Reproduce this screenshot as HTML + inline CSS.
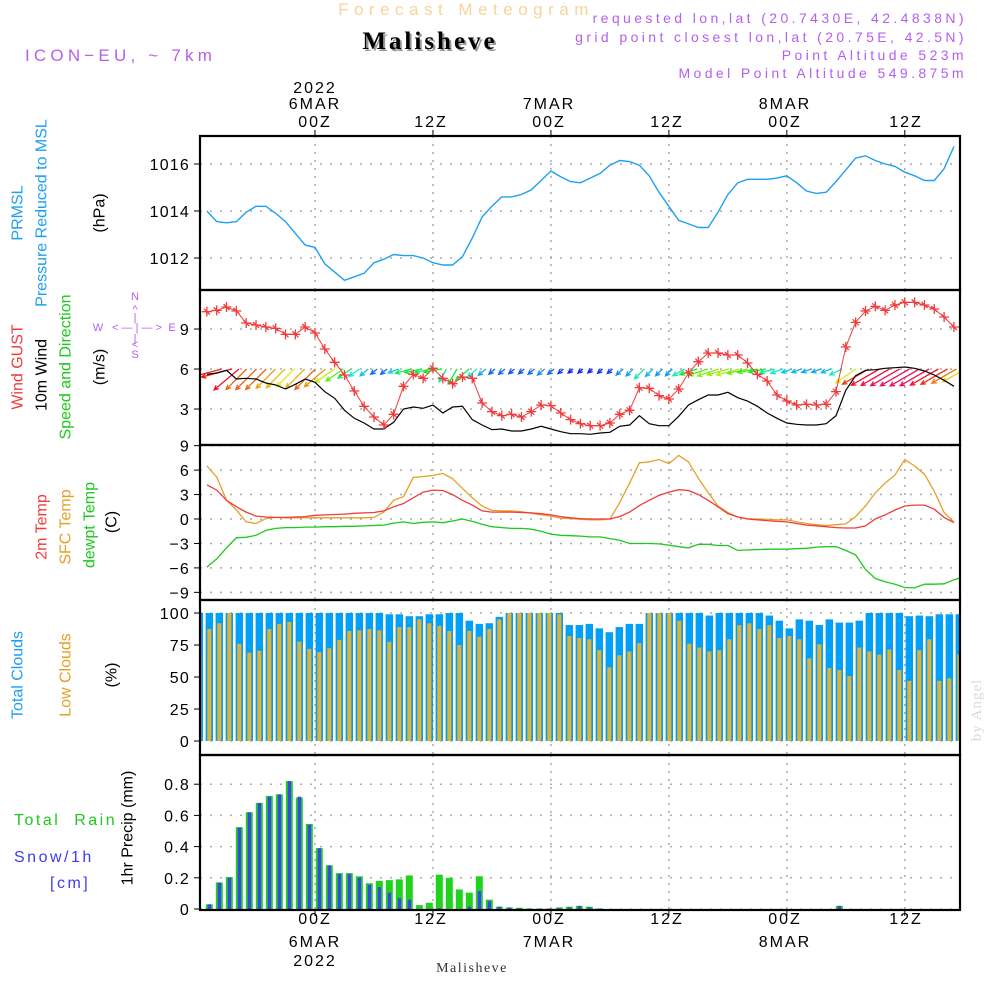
<!DOCTYPE html>
<html><head><meta charset="utf-8">
<style>
html,body{margin:0;padding:0;background:#fff;}
svg{display:block;font-family:"Liberation Sans",sans-serif;}
</style></head>
<body>
<svg id="chart" width="1000" height="1000" viewBox="0 0 1000 1000" xmlns="http://www.w3.org/2000/svg">
<defs><clipPath id="plotclip"><rect x="200" y="136" width="760" height="774"/></clipPath></defs>
<rect x="0" y="0" width="1000" height="1000" fill="#fff"/>
<text x="466" y="15" font-size="17" fill="#f6d49c" text-anchor="middle" letter-spacing="5.5">Forecast Meteogram</text>
<text x="432" y="51" font-size="25" font-weight="bold" fill="#999" text-anchor="middle" font-family="Liberation Serif, serif" letter-spacing="3">Malisheve</text>
<text x="430" y="49" font-size="25" font-weight="bold" fill="#000" text-anchor="middle" font-family="Liberation Serif, serif" letter-spacing="3">Malisheve</text>
<text x="25" y="61" font-size="17" fill="#b45ff0" letter-spacing="4.2">ICON−EU, ~ 7km</text>
<g font-size="14" fill="#b45ff0" text-anchor="end" letter-spacing="3.4">
<text x="967" y="23">requested lon,lat (20.7430E, 42.4838N)</text>
<text x="967" y="42">grid point closest lon,lat (20.75E, 42.5N)</text>
<text x="967" y="60">Point Altitude 523m</text>
<text x="967" y="78">Model Point Altitude 549.875m</text>
</g>
<g font-size="16" fill="#000" text-anchor="middle" letter-spacing="2">
<text x="315" y="93">2022</text>
<text x="315" y="109">6MAR</text>
<text x="315" y="127">00Z</text>
<text x="431" y="127">12Z</text>
<text x="549" y="109">7MAR</text>
<text x="549" y="127">00Z</text>
<text x="667" y="127">12Z</text>
<text x="785" y="109">8MAR</text>
<text x="785" y="127">00Z</text>
<text x="906" y="127">12Z</text>
<text x="315" y="924">00Z</text>
<text x="315" y="947">6MAR</text>
<text x="315" y="966">2022</text>
<text x="431" y="924">12Z</text>
<text x="549" y="924">00Z</text>
<text x="549" y="947">7MAR</text>
<text x="667" y="924">12Z</text>
<text x="785" y="924">00Z</text>
<text x="785" y="947">8MAR</text>
<text x="906" y="924">12Z</text>
</g>
<text x="472" y="972" font-size="14" fill="#333" text-anchor="middle" font-family="Liberation Serif, serif" letter-spacing="1.5">Malisheve</text>
<text transform="translate(981,710) rotate(-90)" font-size="15" fill="#d4dcd4" text-anchor="middle" font-family="Liberation Serif, serif" letter-spacing="1">by Angel</text>
<g font-size="16" text-anchor="middle" dominant-baseline="central">
<text transform="translate(18,213) rotate(-90)" fill="#1ea0f0">PRMSL</text>
<text transform="translate(42,213) rotate(-90)" fill="#1ea0f0">Pressure Reduced to MSL</text>
<text transform="translate(100,213) rotate(-90)" fill="#000">(hPa)</text>
<text transform="translate(18,367) rotate(-90)" fill="#f03c3c">Wind GUST</text>
<text transform="translate(42,375) rotate(-90)" fill="#000">10m Wind</text>
<text transform="translate(66,367) rotate(-90)" fill="#1ec81e">Speed and Direction</text>
<text transform="translate(100,367) rotate(-90)" fill="#000">(m/s)</text>
<text transform="translate(42,527) rotate(-90)" fill="#f03c3c">2m Temp</text>
<text transform="translate(66,527) rotate(-90)" fill="#e6a028">SFC Temp</text>
<text transform="translate(90,525) rotate(-90)" fill="#1ec81e">dewpt Temp</text>
<text transform="translate(112,522) rotate(-90)" fill="#000">(C)</text>
<text transform="translate(18,675) rotate(-90)" fill="#1ea0f0">Total Clouds</text>
<text transform="translate(66,675) rotate(-90)" fill="#e6a028">Low Clouds</text>
<text transform="translate(112,675) rotate(-90)" fill="#000">(%)</text>
<text transform="translate(128,828) rotate(-90)" fill="#000">1hr Precip (mm)</text>
</g>
<g font-size="16" letter-spacing="2.5">
<text x="14" y="825" fill="#1ec81e" xml:space="preserve">Total  Rain</text>
<text x="14" y="862" fill="#3c3cf0">Snow/1h</text>
<text x="50" y="888" fill="#3c3cf0">[cm]</text>
</g>
<g font-size="11" fill="#b45ff0" text-anchor="middle">
<text x="135" y="300">N</text><text x="135" y="313">^</text><text x="135" y="321">|</text>
<text x="98" y="331">W</text><text x="137" y="331">&lt; — | — &gt;</text><text x="172" y="331">E</text>
<text x="135" y="342">|</text><text x="135" y="348">&lt;</text><text x="135" y="358">S</text>
</g>
<g id="grid"></g>
<g id="marks" clip-path="url(#plotclip)"></g>
<g id="frame"></g>
<g id="ticks" font-size="16" fill="#000" text-anchor="end" letter-spacing="1.2"></g>
</svg>
<script>
// ---- data (hourly, h = -11 .. 65) ----
const pressure = [1014.0,1013.55,1013.5,1013.55,1013.95,1014.2,1014.2,1013.9,1013.55,1013.05,1012.55,1012.45,1011.75,1011.4,1011.05,1011.2,1011.35,1011.8,1011.95,1012.15,1012.1,1012.1,1012.0,1011.8,1011.7,1011.7,1012.05,1012.85,1013.75,1014.2,1014.6,1014.6,1014.7,1014.9,1015.3,1015.7,1015.45,1015.25,1015.2,1015.4,1015.6,1015.95,1016.15,1016.1,1015.95,1015.5,1014.8,1014.2,1013.6,1013.45,1013.3,1013.3,1013.95,1014.7,1015.2,1015.35,1015.35,1015.35,1015.4,1015.5,1015.2,1014.85,1014.75,1014.8,1015.25,1015.75,1016.25,1016.35,1016.15,1016.0,1015.9,1015.65,1015.5,1015.3,1015.3,1015.8,1016.75];
const gust = [10.3,10.4,10.65,10.35,9.45,9.3,9.15,9.05,8.6,8.6,9.15,8.7,7.5,6.5,5.55,4.35,3.2,2.4,1.8,2.6,4.7,5.6,5.3,6.05,5.3,4.9,5.4,5.3,3.45,2.8,2.5,2.6,2.4,2.8,3.3,3.25,2.7,2.2,1.9,1.75,1.75,1.95,2.6,2.9,4.6,4.55,4.0,3.75,4.5,5.7,6.55,7.2,7.2,7.05,7.05,6.45,5.6,5.1,4.05,3.6,3.3,3.35,3.3,3.35,4.3,7.65,9.5,10.35,10.7,10.4,10.8,11.0,11.0,10.8,10.5,9.9,9.15];
const wind10m = [5.6,5.7,5.9,5.25,5.3,5.25,4.95,4.8,4.5,4.85,5.25,5.0,4.3,3.8,2.9,2.3,1.95,1.5,1.5,2.0,3.0,3.15,3.05,3.3,2.7,3.15,3.2,2.2,1.8,1.45,1.5,1.35,1.35,1.5,1.7,1.5,1.3,1.15,1.15,1.1,1.2,1.25,1.7,1.8,2.5,1.9,1.75,1.75,2.45,3.3,3.7,4.05,4.05,4.25,3.85,3.6,3.2,2.7,2.3,1.95,1.85,1.8,1.8,1.9,2.5,4.4,5.5,5.9,5.95,6.05,6.1,6.15,6.05,5.85,5.55,5.15,4.7];
const windDir = [15,15,40,45,45,45,45,45,45,45,45,40,35,35,35,35,40,40,40,20,15,12,12,10,60,60,40,40,40,40,40,40,40,40,40,40,40,40,40,40,40,40,40,45,45,45,45,45,30,18,18,18,15,15,12,10,10,15,20,20,20,20,20,20,25,35,30,30,30,30,30,30,30,30,30,30,30];
const temp2m = [4.2,3.55,2.3,1.5,0.85,0.35,0.25,0.2,0.2,0.25,0.3,0.45,0.5,0.55,0.6,0.7,0.75,0.8,1.0,1.5,1.9,2.6,3.3,3.55,3.5,3.0,2.3,1.7,1.0,0.85,0.85,0.85,0.8,0.75,0.65,0.5,0.3,0.15,0.05,0,0,0,0.3,0.85,1.65,2.3,2.9,3.3,3.6,3.5,3.0,2.3,1.5,0.65,0.25,0,-0.1,-0.2,-0.3,-0.35,-0.55,-0.75,-0.85,-0.95,-1.05,-1.1,-1.1,-0.85,0,0.5,1.1,1.6,1.7,1.7,1.2,0.2,-0.45];
const tempSfc = [6.5,5.15,2.3,1.1,-0.35,-0.55,0.05,0.2,0.15,0.15,0.15,0.15,0.15,0.15,0.15,0.15,0.15,0.2,0.85,2.3,2.75,5.1,5.2,5.35,5.6,4.95,3.75,2.6,1.6,1.05,1.0,1.0,0.9,0.7,0.5,0.35,0.1,0.05,-0.05,-0.1,-0.1,0,2.0,4.4,6.9,7.0,7.3,6.8,7.8,7.0,5.0,3.2,1.6,0.8,0.25,0.05,0,-0.05,-0.1,-0.1,-0.35,-0.55,-0.7,-0.8,-0.7,-0.6,0.3,1.6,3.2,4.4,5.4,7.3,6.5,5.5,3.4,0.8,-0.4];
const dewpt = [-5.9,-4.9,-3.55,-2.3,-2.25,-2.0,-1.4,-1.15,-1.05,-1.05,-1.0,-1.0,-0.95,-0.95,-0.9,-0.9,-0.85,-0.8,-0.75,-0.5,-0.35,-0.55,-0.4,-0.35,-0.45,-0.25,0,-0.3,-0.65,-0.95,-1.05,-1.15,-1.15,-1.25,-1.5,-1.85,-2.0,-2.05,-2.1,-2.2,-2.2,-2.4,-2.6,-3.0,-3.0,-3.0,-3.05,-3.2,-3.4,-3.55,-3.1,-3.1,-3.25,-3.25,-3.85,-3.8,-3.75,-3.7,-3.7,-3.7,-3.65,-3.6,-3.45,-3.4,-3.4,-3.85,-4.4,-6.2,-7.3,-7.7,-8.0,-8.4,-8.45,-8.0,-8.0,-7.95,-7.45,-7.1];
// ---- bar data (index j = -1 .. 75) ----
const totalClouds = [100,100,100,100,100,100,100,100,100,100,100,100,100,100,100,100,100,100,100,99,99,97.5,97.5,99,99,100,100,94,91.5,92,97,100,100,100,100,100,100,90.6,90.6,91.5,88,85,89,91.5,91.5,100,100,100,100,100,100,98,100,100,100,100,100,98,94,88,95,94,90.6,95,92.5,92.5,94,100,100,100,100,97.5,98,97.5,99,99,99];
const lowClouds = [66,87.5,92,100,76,69,70.5,87.5,91.5,93,77.6,72,69.5,72.5,79,86,86.5,87.5,86.5,77.5,89,89,95,92,90,86,75,86,81.5,87.5,95,100,100,100,100,100,99,82,80.5,79.5,71,57.5,67,70,76.5,100,100,100,94,76,73,70,71,79.5,90.5,92,87.5,90.5,80.5,82,79.5,64.6,75.5,57,55.5,50.8,73,70,67.5,71.5,55.5,47,71,79.5,47,49,67.5];
const rain = [0,0.03,0.17,0.205,0.525,0.62,0.68,0.725,0.735,0.82,0.715,0.545,0.39,0.28,0.23,0.23,0.21,0.165,0.18,0.185,0.19,0.215,0.025,0.04,0.22,0.2,0.125,0.105,0.21,0.06,0.015,0.01,0.008,0.003,0.003,0.003,0.01,0.015,0.02,0.015,0.003,0,0,0,0,0,0,0,0,0,0,0,0,0,0,0,0,0,0,0,0,0,0,0,0.02,0,0,0,0,0,0,0,0,0,0,0,0];
const snow = [0,0.03,0.17,0.2,0.52,0.62,0.68,0.72,0.735,0.82,0.72,0.54,0.39,0.28,0.225,0.225,0.2,0.155,0.14,0.105,0.07,0.06,0,0,0.005,0,0,0.015,0.115,0.05,0.015,0.01,0.005,0.003,0.003,0.003,0.005,0.01,0.02,0.01,0.003,0,0,0,0,0,0,0,0,0,0,0,0,0,0,0,0,0,0,0,0,0,0,0,0.02,0,0,0,0,0,0,0,0,0,0,0,0];
// ---- ticks ----
const pTicks = [1012,1014,1016];
const wTicks = [3,6,9];
const tTicks = [-9,-6,-3,0,3,6,9];
const cTicks = [0,25,50,75,100];
const rTicks = [0,0.2,0.4,0.6,0.8];
const timeTicks = [0,12,24,36,48,60];

const NS='http://www.w3.org/2000/svg';
const X = h => 315 + h*9.83;
const XB = j => 209.3 + j*10;
const yP = p => 211 - (p-1014)*23.5;
const yW = v => 369 - (v-6)*13.33;
const yT = t => 519 - t*8.15;
const yC = c => 741 - c*1.28;
const yR = r => 909 - r*156;
function mk(parent, tag, attrs){const e=document.createElementNS(NS,tag);for(const k in attrs)e.setAttribute(k,attrs[k]);parent.appendChild(e);return e;}
const grid=document.getElementById('grid'), marks=document.getElementById('marks'), frame=document.getElementById('frame'), ticks=document.getElementById('ticks');
const panels=[[136,290],[290,445],[445,600],[600,755],[755,910]];

panels.forEach(pn=>{timeTicks.forEach(h=>{
  const l=mk(grid,'line',{x1:X(h),x2:X(h),y1:pn[0],y2:pn[1],stroke:'#aaa','stroke-width':1.5,'stroke-dasharray':'2,6'});
  
  
});});
function hticks(vals,fy,fmt,name){vals.forEach(v=>{
  const y=fy(v);
  const g=mk(grid,'line',{x1:200,x2:960,y1:y,y2:y,stroke:'#aaa','stroke-width':1.5,'stroke-dasharray':'2,8'});
  
  
  const tk=mk(frame,'line',{x1:194,x2:200,y1:y,y2:y,stroke:'#000','stroke-width':1});
  
  
  const t=mk(ticks,'text',{x:190,y:y+6});
  t.textContent=fmt(v);
  
  
});}
hticks(pTicks,yP,v=>String(v),'pressure');
hticks(wTicks,yW,v=>String(v),'wind');
hticks(tTicks,yT,v=>(v<0?'−'+(-v):String(v)),'temp');
hticks(cTicks,yC,v=>String(v),'clouds');
hticks(rTicks,yR,v=>(v===0?'0':v.toFixed(1)),'precip');

function polyline(arr,fy,color,name,w){
  const pts=arr.map((v,i)=>X(i-11).toFixed(1)+','+fy(v).toFixed(1)).join(' ');
  const p=mk(marks,'polyline',{points:pts,fill:'none',stroke:color,'stroke-width':w||1.3});
  
  
}
totalClouds.forEach((v,i)=>{const x=XB(i-1);
  const r=mk(marks,'rect',{x:x-3.7,y:yC(v),width:7.4,height:yC(0)-yC(v),fill:'#00a0f8'});
  
  
});
lowClouds.forEach((v,i)=>{const x=XB(i-1);
  const r=mk(marks,'rect',{x:x-2,y:yC(v),width:4,height:yC(0)-yC(v),fill:'#e6b030'});
  
  
});
rain.forEach((v,i)=>{if(v<=0)return;const x=XB(i-1);
  const r=mk(marks,'rect',{x:x-3.5,y:yR(v),width:7,height:yR(0)-yR(v),fill:'#1ed21e'});
  
  
});
snow.forEach((v,i)=>{if(v<=0)return;const x=XB(i-1);
  const r=mk(marks,'rect',{x:x-1.6,y:yR(v),width:3.4,height:yR(0)-yR(v),fill:'#3c46f0'});
  
  
});
polyline(pressure,yP,'#1ea0f0','pressure-line',1.4);
wind10m.forEach((s,i)=>{
  const x=X(i-11), L=s*5.5, a=windDir[i]*Math.PI/180;
  const dx=L*Math.cos(a), dy=L*Math.sin(a);
  const x1=x+dx/2, y1=369, x2=x-dx/2, y2=369+dy;
  let hue=230-(s-1.2)*51; if(hue<0)hue+=360;
  const col='hsl('+hue.toFixed(0)+',85%,50%)';
  const ang=Math.atan2(y2-y1,x2-x1);
  const hl=5;
  const d='M'+x1+','+y1+'L'+x2+','+y2+'M'+(x2-hl*Math.cos(ang-0.45))+','+(y2-hl*Math.sin(ang-0.45))+'L'+x2+','+y2+'L'+(x2-hl*Math.cos(ang+0.45))+','+(y2-hl*Math.sin(ang+0.45));
  const p=mk(marks,'path',{d:d,stroke:col,'stroke-width':1.3,fill:'none'});
  
  
});
polyline(wind10m,yW,'#000','wind-10m-line',1.2);
polyline(gust,yW,'#f03c3c','wind-gust-line',1);
gust.forEach((v,i)=>{const x=X(i-11),y=yW(v);
  const p=mk(marks,'path',{d:'M'+(x-5)+','+y+'H'+(x+5)+'M'+x+','+(y-5)+'V'+(y+5)+'M'+(x-3)+','+(y-3)+'L'+(x+3)+','+(y+3),stroke:'#f03c3c','stroke-width':1.3,fill:'none'});
  
  
});
polyline(tempSfc,yT,'#e6a028','sfc-temp-line',1.3);
polyline(temp2m,yT,'#f03c3c','temp-2m-line',1.3);
polyline(dewpt,yT,'#1ec81e','dewpoint-line',1.3);
panels.forEach(pn=>{
  const r=mk(frame,'rect',{x:200,y:pn[0],width:760,height:pn[1]-pn[0],fill:'none',stroke:'#000','stroke-width':2.2});
  
  
});
timeTicks.forEach(h=>{
  const t=mk(frame,'line',{x1:X(h),x2:X(h),y1:130,y2:136,stroke:'#000'});
  
  
  const b=mk(frame,'line',{x1:X(h),x2:X(h),y1:910,y2:916,stroke:'#000'});
  
  
});
</script>
</body></html>
